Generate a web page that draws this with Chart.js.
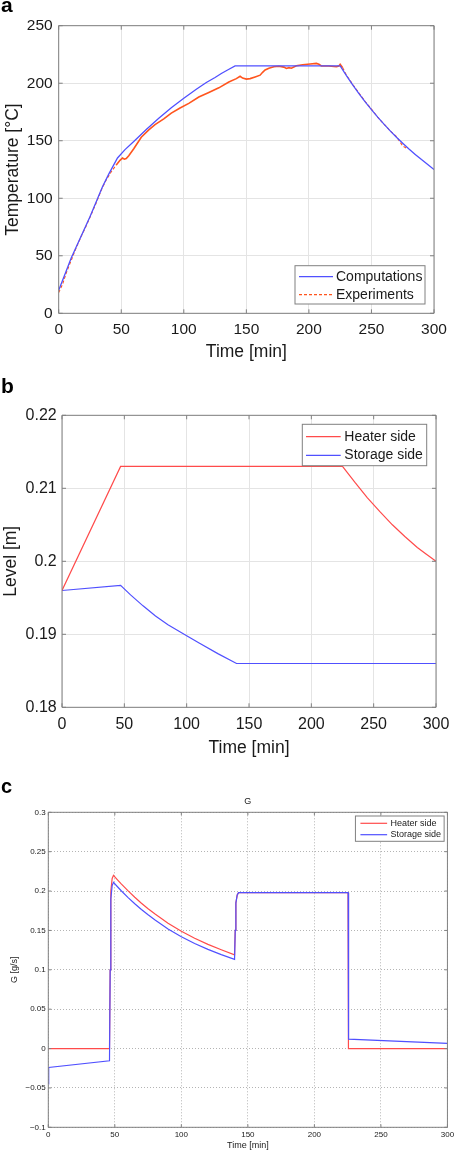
<!DOCTYPE html>
<html>
<head>
<meta charset="utf-8">
<script src="https://cdn.jsdelivr.net/npm/chart.js@4.4.1/dist/chart.umd.min.js"></script>
<style>
  body { margin: 0; background: #fff; }
  .panel { position: absolute; left: 0; width: 457px; }
</style>
</head>
<body>
<div class="panel" style="top:0;height:370px"><canvas id="chartA" width="457" height="370"></canvas></div>
<div class="panel" style="top:370px;height:400px"><canvas id="chartB" width="457" height="400"></canvas></div>
<div class="panel" style="top:770px;height:382px"><canvas id="chartC" width="457" height="382"></canvas></div>
<script>
// (a) temperature
const compTime = [0, 5, 10, 15, 20, 25, 30, 35, 40, 47, 53, 60, 70, 80, 90, 100, 110, 118, 125, 130, 135, 141,
  225, 230, 235, 240, 245, 250, 255, 260, 265, 270, 275, 280, 285, 290, 295, 300];
const compTemp = [20, 34, 48, 60, 72, 84, 97, 110, 121, 135, 142.3, 149.4, 159.8, 169.5, 178.6, 187, 194.8, 200.6,
  205, 208.5, 211.5, 215, 215, 206.6, 198.6, 191, 183.8, 177, 170.5, 164.4, 158.6, 153, 147.8, 142.8, 138.1,
  133.6, 129.3, 125];
const expTime = [0, 3, 6, 10, 14, 18, 22, 26, 30, 34, 38, 42, 46, 49, 51, 52.5, 54, 56, 60, 66, 72, 77, 84, 90, 97,
  104, 112, 120, 128, 136, 142, 145, 147, 150, 153, 157, 161, 163, 165, 168, 172, 176, 180, 182, 184, 186, 190,
  195, 201, 206, 208, 210, 216, 222, 224, 225, 227, 230, 235, 240, 245, 250, 255, 260, 265, 270, 275, 279];
const expTemp = [18, 25, 35, 46, 57, 67, 76, 86, 96, 107, 116, 123, 129, 133, 135, 134, 134.5, 137, 143, 153, 159.5,
  164, 169, 174, 178.5, 182.5, 188, 192, 196, 201, 204, 206, 204.5, 203.6, 204, 205.5, 207, 209.5, 211.5, 213,
  214.3, 214.8, 214, 212.8, 213.5, 213, 215.2, 216, 216.7, 217.2, 216.5, 215, 215, 214.3, 215, 216.4, 213.5, 207,
  199, 191.5, 184, 177.5, 170.5, 164.5, 158.5, 153.5, 145.5, 143];
const tempTicks = [0, 50, 100, 150, 200, 250];

// (b) level
const heaterLevelTime = [0, 47, 225, 235, 245, 255, 265, 275, 285, 292, 300];
const heaterLevel = [0.196, 0.213, 0.213, 0.2108, 0.2087, 0.2068, 0.205, 0.2034, 0.2019, 0.201, 0.2];
const storageLevelTime = [0, 47, 55, 65, 75, 85, 100, 110, 125, 140, 300];
const storageLevel = [0.196, 0.1967, 0.1954, 0.1939, 0.1925, 0.1913, 0.1898, 0.1888, 0.18735, 0.186, 0.186];

// (c) flow
const heaterFlowTime = [0, 46, 46.5, 47, 48, 49, 52, 55, 60, 65, 70, 75, 80, 90, 100, 110, 120, 130, 140,
  140.5, 141, 142, 143, 225.3, 225.6, 300];
const heaterFlow = [0, 0, 0.1, 0.2, 0.216, 0.22, 0.2143, 0.2088, 0.2002, 0.1922, 0.1846, 0.1776, 0.1711, 0.1592,
  0.149, 0.1401, 0.1323, 0.1255, 0.119, 0.15, 0.185, 0.195, 0.198, 0.198, 0, 0];
const storageFlowTime = [0, 0.3, 46, 46.5, 47, 48, 49, 52, 55, 60, 65, 70, 75, 80, 90, 100, 110, 120, 130, 140,
  140.5, 141, 142, 143, 225.4, 225.7, 300];
const storageFlow = [-0.045, -0.024, -0.0155, 0.1, 0.19, 0.207, 0.211, 0.2055, 0.2001, 0.1917, 0.1839, 0.1766,
  0.1698, 0.1635, 0.1519, 0.142, 0.1334, 0.1259, 0.1193, 0.1133, 0.15, 0.185, 0.195, 0.198, 0.198, 0.012, 0.0065];

const FAMILY = "'Liberation Sans', Arial, Helvetica, sans-serif";
Chart.defaults.font.family = FAMILY;
Chart.defaults.color = '#1a1a1a';

const BLUE = 'rgb(80, 80, 255)';
const RED = 'rgb(255, 75, 75)';
const ORANGE = 'rgb(255, 85, 30)';
const BOX = '#808080';

function pairs(xs, ys) {
  return xs.map((x, i) => ({ x: x, y: ys[i] }));
}

function fmt(v) {
  return String(+v.toFixed(3)).replace('-', '\u2212');
}

// box, inner ticks, legend, panel letter (MATLAB look)
const matlabAxes = {
  id: 'matlabAxes',
  afterDatasetsDraw(chart, args, opts) {
    const ctx = chart.ctx;
    const a = chart.chartArea;
    const xs = chart.scales.x;
    const ys = chart.scales.y;
    ctx.save();
    ctx.setLineDash([]);
    ctx.strokeStyle = BOX;
    ctx.lineWidth = 1;
    ctx.beginPath();
    ctx.rect(a.left, a.top, a.width, a.height);
    xs.ticks.forEach((t) => {
      const px = xs.getPixelForValue(t.value);
      ctx.moveTo(px, a.bottom);
      ctx.lineTo(px, a.bottom - opts.tickLen);
      ctx.moveTo(px, a.top);
      ctx.lineTo(px, a.top + opts.tickLen);
    });
    ys.ticks.forEach((t) => {
      const py = ys.getPixelForValue(t.value);
      ctx.moveTo(a.left, py);
      ctx.lineTo(a.left + opts.tickLen, py);
      ctx.moveTo(a.right, py);
      ctx.lineTo(a.right - opts.tickLen, py);
    });
    ctx.stroke();

    if (opts.title) {
      ctx.fillStyle = '#1a1a1a';
      ctx.font = opts.title.size + 'px ' + FAMILY;
      ctx.textAlign = 'center';
      ctx.textBaseline = 'middle';
      ctx.fillText(opts.title.text, (a.left + a.right) / 2, a.top - opts.title.gap);
    }

    const lg = opts.legend;
    const bx = a.right - lg.right - lg.w;
    const by = lg.top !== undefined ? a.top + lg.top : a.bottom - lg.bottom - lg.h;
    ctx.fillStyle = '#fff';
    ctx.fillRect(bx, by, lg.w, lg.h);
    ctx.strokeStyle = BOX;
    ctx.lineWidth = 1;
    ctx.strokeRect(bx, by, lg.w, lg.h);
    ctx.font = lg.size + 'px ' + FAMILY;
    ctx.textAlign = 'left';
    ctx.textBaseline = 'middle';
    chart.data.datasets.forEach((ds, i) => {
      const y = by + lg.rows[i];
      ctx.strokeStyle = ds.borderColor;
      ctx.lineWidth = 1.2;
      ctx.setLineDash(ds.legendDash || []);
      ctx.beginPath();
      ctx.moveTo(bx + lg.lineX, y);
      ctx.lineTo(bx + lg.lineX + lg.lineLen, y);
      ctx.stroke();
      ctx.setLineDash([]);
      ctx.fillStyle = '#1a1a1a';
      ctx.fillText(ds.label, bx + lg.lineX + lg.lineLen + lg.gap, y);
    });

    const L = opts.letter;
    ctx.font = 'bold ' + L.size + 'px ' + FAMILY;
    ctx.textBaseline = 'alphabetic';
    ctx.fillStyle = '#000';
    ctx.fillText(L.text, L.x, L.y);
    ctx.restore();
  }
};

function makeScales(cfg) {
  return {
    x: {
      type: 'linear',
      min: 0,
      max: 300,
      afterFit: (s) => { s.height = cfg.xHeight; },
      ticks: { stepSize: 50, autoSkip: false, maxRotation: 0, padding: cfg.xPad,
        font: { size: cfg.tickSize }, color: '#1a1a1a', callback: (v) => fmt(v) },
      grid: { color: cfg.gridColor, drawTicks: false, lineWidth: 1 },
      border: { display: false, dash: cfg.gridDash },
      title: { display: true, text: 'Time [min]', font: { size: cfg.titleSize },
        color: '#1a1a1a', padding: { top: 0, bottom: cfg.xTitlePad } }
    },
    y: {
      min: cfg.yMin,
      max: cfg.yMax,
      afterFit: (s) => { s.width = cfg.yWidth; },
      afterBuildTicks: (s) => { s.ticks = cfg.yTicks.map((v) => ({ value: v })); },
      ticks: { autoSkip: false, padding: cfg.yPad,
        font: { size: cfg.tickSize }, color: '#1a1a1a', callback: (v) => fmt(v) },
      grid: { color: cfg.gridColor, drawTicks: false, lineWidth: 1 },
      border: { display: false, dash: cfg.gridDash },
      title: { display: true, text: cfg.yTitle, font: { size: cfg.titleSize },
        color: '#1a1a1a', padding: { top: cfg.yTitlePad, bottom: 0 } }
    }
  };
}

const lineDefaults = { pointRadius: 0, tension: 0, fill: false };

// ---- (a) ----
new Chart(document.getElementById('chartA'), {
  type: 'line',
  data: {
    datasets: [
      Object.assign({ label: 'Computations', data: pairs(compTime, compTemp),
        borderColor: BLUE, borderWidth: 1.3 }, lineDefaults),
      Object.assign({ label: 'Experiments', data: pairs(expTime, expTemp),
        borderColor: ORANGE, borderWidth: 1.6, legendDash: [3, 2],
        segment: {
          borderDash: (c) => (c.p0.parsed.x < 46 || c.p0.parsed.x >= 227 ? [3, 2] : undefined),
          borderWidth: (c) => (c.p0.parsed.x < 46 || c.p0.parsed.x >= 227 ? 1.1 : undefined)
        } }, lineDefaults)
    ]
  },
  options: {
    responsive: false,
    animation: false,
    layout: { padding: { left: 0, top: 25.7, right: 23, bottom: 0 } },
    plugins: {
      legend: { display: false },
      tooltip: { enabled: false },
      matlabAxes: {
        tickLen: 4,
        letter: { text: 'a', x: 1, y: 12.3, size: 21 },
        legend: { right: 9, bottom: 9.3, w: 130, h: 38.3, lineX: 4, lineLen: 34, gap: 3,
          rows: [11, 29], size: 14 }
      }
    },
    scales: makeScales({ xHeight: 56.7, xPad: 7.4, yWidth: 58.7, yPad: 6, tickSize: 15.5, titleSize: 17.5,
      xTitlePad: 7.8, yTitlePad: 2.2, yMin: 0, yMax: 250, yTicks: tempTicks,
      yTitle: 'Temperature [°C]', gridColor: '#e4e4e4', gridDash: [] })
  },
  plugins: [matlabAxes]
});

// ---- (b) ----
new Chart(document.getElementById('chartB'), {
  type: 'line',
  data: {
    datasets: [
      Object.assign({ label: 'Heater side', data: pairs(heaterLevelTime, heaterLevel),
        borderColor: RED, borderWidth: 1.2 }, lineDefaults),
      Object.assign({ label: 'Storage side', data: pairs(storageLevelTime, storageLevel),
        borderColor: BLUE, borderWidth: 1.2 }, lineDefaults)
    ]
  },
  options: {
    responsive: false,
    animation: false,
    layout: { padding: { left: 0, top: 45.3, right: 21, bottom: 0 } },
    plugins: {
      legend: { display: false },
      tooltip: { enabled: false },
      matlabAxes: {
        tickLen: 4,
        letter: { text: 'b', x: 1, y: 23, size: 21 },
        legend: { right: 9.3, top: 9, w: 124.4, h: 41.4, lineX: 3.7, lineLen: 34.7, gap: 3.6,
          rows: [12.4, 31], size: 14 }
      }
    },
    scales: makeScales({ xHeight: 62.7, xPad: 7.4, yWidth: 62, yPad: 5.3, tickSize: 16, titleSize: 17.5,
      xTitlePad: 11.8, yTitlePad: 0.7, yMin: 0.18, yMax: 0.22,
      yTicks: [0.18, 0.19, 0.2, 0.21, 0.22],
      yTitle: 'Level [m]', gridColor: '#e4e4e4', gridDash: [] })
  },
  plugins: [matlabAxes]
});

// ---- (c) ----
new Chart(document.getElementById('chartC'), {
  type: 'line',
  data: {
    datasets: [
      Object.assign({ label: 'Heater side', data: pairs(heaterFlowTime, heaterFlow),
        borderColor: RED, borderWidth: 1.2, order: 1 }, lineDefaults),
      Object.assign({ label: 'Storage side', data: pairs(storageFlowTime, storageFlow),
        borderColor: BLUE, borderWidth: 1.2, order: 0 }, lineDefaults)
    ]
  },
  options: {
    responsive: false,
    animation: false,
    layout: { padding: { left: 0, top: 42.3, right: 9, bottom: 0 } },
    plugins: {
      legend: { display: false },
      tooltip: { enabled: false },
      matlabAxes: {
        tickLen: 3,
        title: { text: 'G', size: 9, gap: 10.6 },
        letter: { text: 'c', x: 1, y: 22.5, size: 20 },
        legend: { right: 3.3, top: 3.7, w: 88.7, h: 25.3, lineX: 5, lineLen: 26.7, gap: 3.3,
          rows: [7.3, 18.7], size: 9 }
      }
    },
    scales: makeScales({ xHeight: 24.7, xPad: 2.9, yWidth: 48.3, yPad: 2.6, tickSize: 8, titleSize: 9,
      xTitlePad: 0.6, yTitlePad: 9.6, yMin: -0.1, yMax: 0.3,
      yTicks: [-0.1, -0.05, 0, 0.05, 0.1, 0.15, 0.2, 0.25, 0.3],
      yTitle: 'G [g/s]', gridColor: '#b4b4b4', gridDash: [1, 2] })
  },
  plugins: [matlabAxes]
});
</script>
</body>
</html>
